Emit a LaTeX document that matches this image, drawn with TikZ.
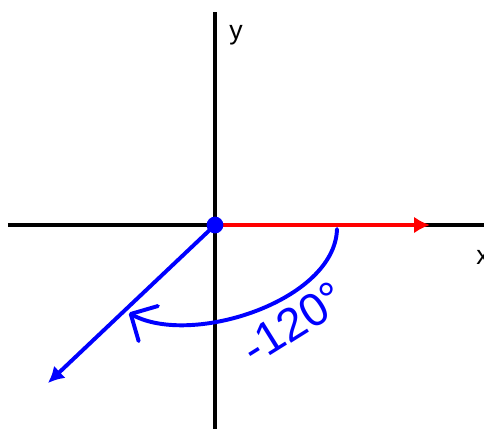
\documentclass[tikz,border=0pt]{standalone}
\usepackage{fontspec}
\setmainfont{Liberation Sans}
\usetikzlibrary{arrows.meta,positioning}
\tikzset{>={Latex[length=0.4cm,width=0.42cm]}}
\tikzset{font=\fontsize{19}{22}\selectfont}

\begin{document}
\begin{tikzpicture}[
  axis/.style={line width=2.8pt, black},
  ray/.style={line width=2.8pt, ->},
  ]
  \useasboundingbox (-5.375,-5.075) rectangle (6.725,5.625);
  \clip (-5.375,-5.075) rectangle (6.725,5.625);
  \coordinate (O) at (0,0);
  \coordinate (xl) at (-5.175,0);
  \coordinate (xr) at (6.9,0);
  \coordinate (yt) at (0,5.325);
  \coordinate (yb) at (0,-5.2);
  \coordinate (rt) at (5.375,0);
  \coordinate (bt) at (-4.175,-3.95);
  \coordinate (as) at (3.05,-0.1);
  \coordinate (ae) at (-2.15,-2.2);
  % axes
  \draw[axis] (xl) -- (xr);
  \draw[axis] (yt) -- (yb);
  \node (ylab) at (0.525,4.75) {y};
  \node (xlab) at (6.7,-0.8) {x};
  % initial and terminal side
  \draw[ray, red] (O) -- (rt);
  \draw[ray, blue] (O) -- (bt);
  % angle
  \draw[blue, line width=2.8pt, line cap=round,
    -{Straight Barb[length=0.5cm, width=1cm, round]}]
    (as) .. controls (3.0,-1.9) and (-0.6,-3.05) .. (ae);
  \node[blue, rotate=32, font=\fontsize{33}{36}\selectfont] (ang) at (1.95,-2.45) {-120\textdegree};
  \fill[blue] (O) circle (0.21);
\end{tikzpicture}
\end{document}
